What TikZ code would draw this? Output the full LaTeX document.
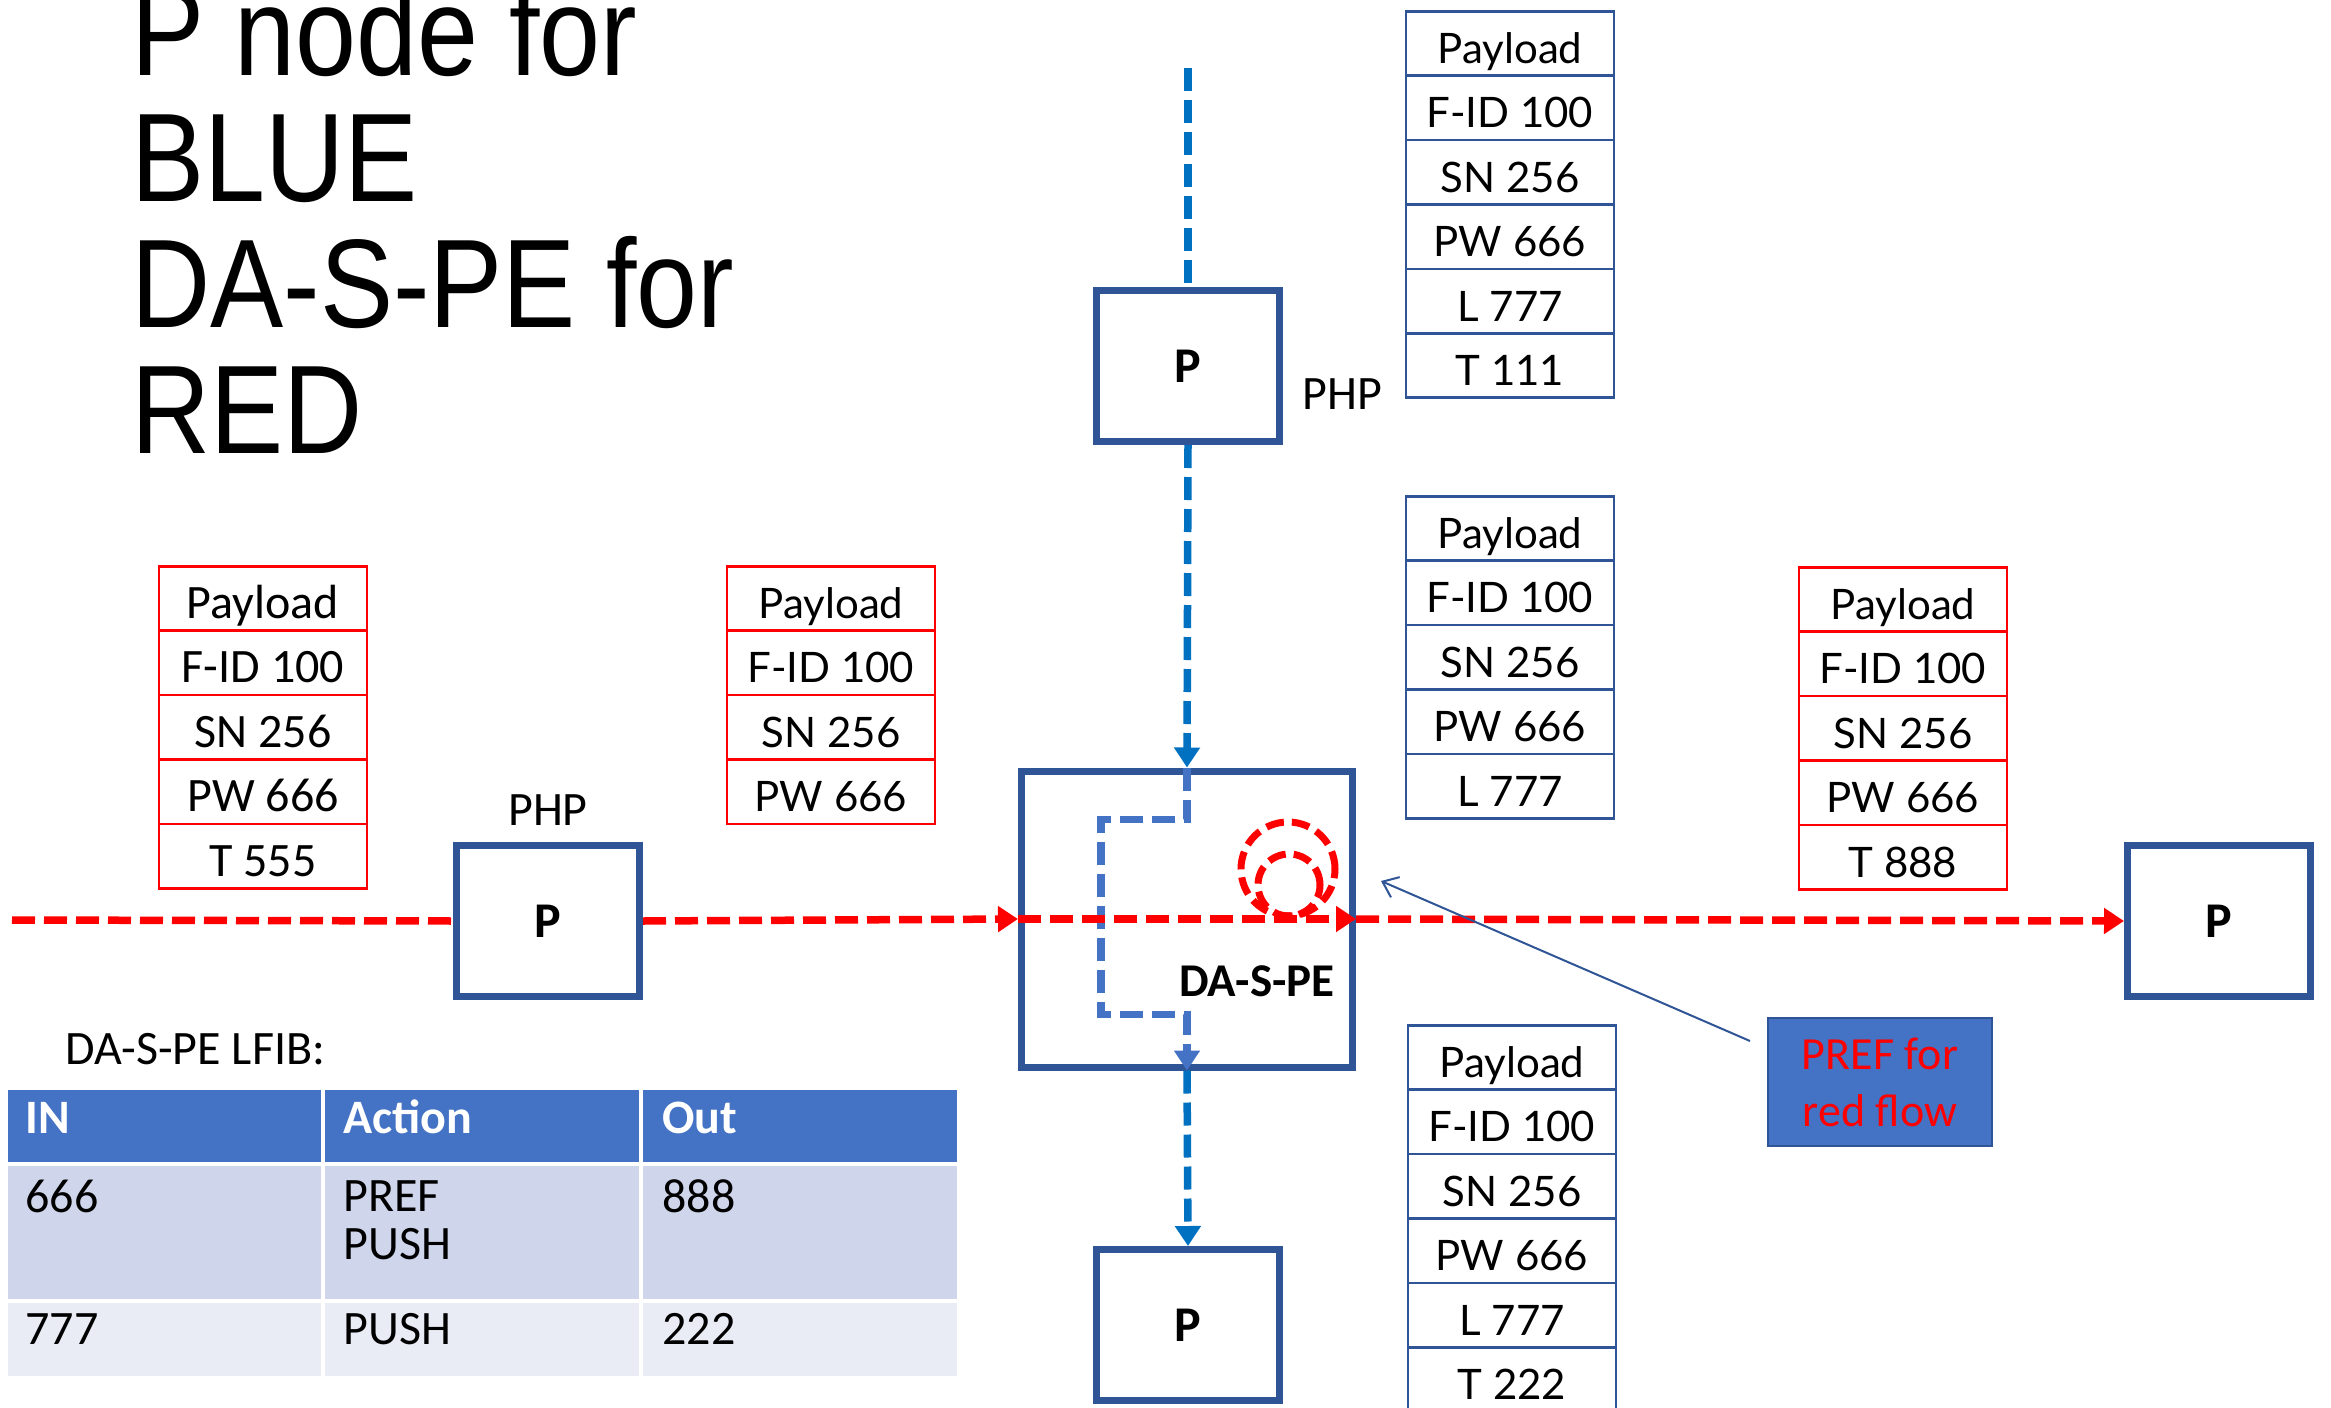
\documentclass[tikz,border=0pt]{standalone}
\usepackage{fontspec}
\setmainfont{Carlito}
\newfontfamily\titlefont[FakeStretch=0.87]{Liberation Sans}
\newfontfamily\stackfont{Lato}
\usetikzlibrary{arrows.meta,calc}

\definecolor{boxblue}{RGB}{47,85,151}
\definecolor{flowblue}{RGB}{0,112,192}
\definecolor{lightblue}{RGB}{68,114,196}
\definecolor{flowred}{RGB}{255,0,0}
\definecolor{rowA}{RGB}{207,213,234}
\definecolor{rowB}{RGB}{233,235,245}

\begin{document}
\begin{tikzpicture}[x=0.5pt,y=-0.5pt,
  pbox/.style={draw=boxblue, line width=3.5pt, fill=white, minimum width=91.5pt,
    minimum height=75.5pt, inner sep=0pt, font=\fontsize{25}{29}\selectfont\bfseries},
  flow/.style={line width=3.75pt, dash pattern=on 11.5pt off 4.5pt},
  tip/.style={-{Triangle[length=10pt,width=12.5pt]}},
  redflow/.style={flow, draw=flowred},
  blueflow/.style={flow, draw=flowblue},
  innerflow/.style={flow, draw=lightblue},
  loop/.style={circle, draw=flowred, line width=3.5pt, dash pattern=on 9pt off 4pt, inner sep=0pt},
  cellbase/.style={line width=1.25pt, minimum width=104pt, minimum height=32.2pt,
    inner sep=0pt, anchor=north, text height=20pt, text depth=0pt,
    font=\stackfont\fontsize{21}{25}\selectfont},
  cellR/.style={cellbase, draw=flowred},
  cellB/.style={cellbase, draw=boxblue},
  tcell/.style={draw=white, line width=2pt, anchor=north west, inner sep=0pt},
  ttext/.style={anchor=base west, inner sep=0pt, font=\fontsize{24}{28}\selectfont},
  label/.style={inner sep=0pt, font=\fontsize{24}{28}\selectfont}
]
\fill[white] (0,0) rectangle (2331,1408);
\useasboundingbox (0,0) rectangle (2331,1408);

% heading (anchored on the baseline of its last line)
\node[anchor=base west, align=left, inner sep=0pt,
  font=\titlefont\fontsize{63}{63}\selectfont] (title) at (131,453)
  {P node for\\BLUE\\DA-S-PE for\\RED};

% routers
\node[pbox] (tp) at (1188,366) {P};
\node[pbox] (lp) at (548,921) {P};
\node[pbox] (rp) at (2219,921) {P};
\node[pbox] (bp) at (1188,1325) {P};
\node[pbox, minimum width=165.5pt, minimum height=148pt] (dase) at (1187,919) {};
\node[anchor=base, inner sep=0pt, font=\fontsize{23.5}{27}\selectfont\bfseries] (daselbl) at (1257,996) {DA-S-PE};

\node[label, anchor=base west] (phpT) at (1302,409) {PHP};
\node[label, anchor=base] (phpL) at (548,825) {PHP};

% label stacks
\foreach \t [count=\i from 0] in {Payload,F-ID 100,SN 256,PW 666,L 777,T 111}
  \node[cellB] (st-\i) at (1510,{10+64.4*\i}) {\t};
\foreach \t [count=\i from 0] in {Payload,F-ID 100,SN 256,PW 666,L 777}
  \node[cellB] (sm-\i) at (1510,{495+64.4*\i}) {\t};
\foreach \t [count=\i from 0] in {Payload,F-ID 100,SN 256,PW 666,L 777,T 222}
  \node[cellB] (sb-\i) at (1512,{1024+64.4*\i}) {\t};
\foreach \t [count=\i from 0] in {Payload,F-ID 100,SN 256,PW 666,T 555}
  \node[cellR, font=\fontsize{24}{28}\selectfont] (sl-\i) at (263,{565+64.4*\i}) {\t};
\foreach \t [count=\i from 0] in {Payload,F-ID 100,SN 256,PW 666}
  \node[cellR] (sc-\i) at (831,{565+64.4*\i}) {\t};
\foreach \t [count=\i from 0] in {Payload,F-ID 100,SN 256,PW 666,T 888}
  \node[cellR] (sr-\i) at (1903,{566+64.4*\i}) {\t};

% blue flow
\coordinate (bluesrc) at (1188,68);
\draw[blueflow] (bluesrc) -- (tp.north);
\draw[blueflow, tip] (tp.south) -- (dase.north);
\draw[innerflow, tip] (dase.north) -- ++(0,52) -- ++(-86,0) -- ++(0,195) -- ++(86,0) -- (dase.south);
\draw[blueflow, tip] (dase.south) -- (bp.north);

% red flow
\coordinate (redsrc) at (12,920);
\draw[redflow] (redsrc) -- (lp.west);
\draw[redflow, tip] (lp.east) -- (dase.west);
\draw[redflow, tip] (dase.west) -- (dase.east);
\draw[redflow, tip] (dase.east) -- (rp.west);

% preference loops
\node[loop, minimum size=47pt] (loopO) at (1288,869) {};
\node[loop, minimum size=31pt] (loopI) at (1289,885) {};

% callout
\node[draw=boxblue, fill=lightblue, line width=1pt, minimum width=112pt, minimum height=64pt,
  text=flowred, align=center, inner sep=0pt, font=\fontsize{23}{28.5}\selectfont] (pref) at (1880,1082)
  {PREF for\\red flow};
\coordinate (prefTail) at (1750,1041);
\coordinate (prefTip) at (1381,881);
\draw[boxblue, line width=1pt, -{Straight Barb[length=7pt,width=11pt]}] (prefTail) -- (prefTip);

% LFIB table
\node[anchor=base west, inner sep=0pt, font=\fontsize{24}{28}\selectfont] (lfib) at (65,1064) {DA-S-PE LFIB:};
\node[tcell, fill=lightblue, minimum width=158.5pt, minimum height=38pt] (h1) at (4,1086) {};
\node[tcell, fill=lightblue, minimum width=159pt, minimum height=38pt] (h2) at (321,1086) {};
\node[tcell, fill=lightblue, minimum width=159pt, minimum height=38pt] (h3) at (639,1086) {};
\node[tcell, fill=rowA, minimum width=158.5pt, minimum height=68.5pt] (a1) at (4,1162) {};
\node[tcell, fill=rowA, minimum width=159pt, minimum height=68.5pt] (a2) at (321,1162) {};
\node[tcell, fill=rowA, minimum width=159pt, minimum height=68.5pt] (a3) at (639,1162) {};
\node[tcell, fill=rowB, minimum width=158.5pt, minimum height=38.5pt] (b1) at (4,1299) {};
\node[tcell, fill=rowB, minimum width=159pt, minimum height=38.5pt] (b2) at (321,1299) {};
\node[tcell, fill=rowB, minimum width=159pt, minimum height=38.5pt] (b3) at (639,1299) {};

\node[ttext, text=white, font=\fontsize{24}{28}\selectfont\bfseries] at ($(h1.north west)+(21,47)$) {IN};
\node[ttext, text=white, font=\fontsize{24}{28}\selectfont\bfseries] at ($(h2.north west)+(22,47)$) {Action};
\node[ttext, text=white, font=\fontsize{24}{28}\selectfont\bfseries] at ($(h3.north west)+(23,47)$) {Out};
\node[ttext] at ($(a1.north west)+(21,50)$) {666};
\node[ttext, align=left, font=\fontsize{24}{24}\selectfont] at ($(a2.north west)+(22,97)$) {PREF\\PUSH};
\node[ttext] at ($(a3.north west)+(23,50)$) {888};
\node[ttext] at ($(b1.north west)+(21,45)$) {777};
\node[ttext] at ($(b2.north west)+(22,45)$) {PUSH};
\node[ttext] at ($(b3.north west)+(23,45)$) {222};
\end{tikzpicture}
\end{document}
